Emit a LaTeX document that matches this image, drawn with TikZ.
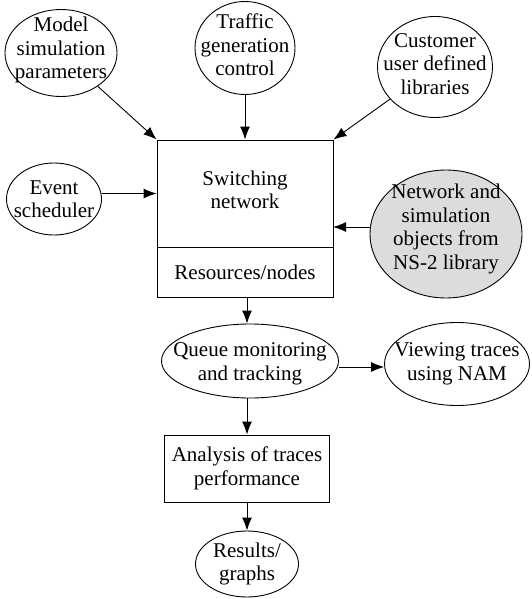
\documentclass[tikz,border=0pt]{standalone}
\usepackage{fontspec}
\setmainfont{Liberation Serif}
\usetikzlibrary{shapes.geometric,arrows.meta}
\begin{document}
\begin{tikzpicture}[x=1pt,y=-1pt,
  every node/.style={font=\fontsize{21}{23.5}\selectfont, align=center, line width=0.9pt},
  ell/.style={ellipse, draw, inner sep=0pt},
  rbox/.style={rectangle, draw, inner sep=0pt},
  arr/.style={-{Latex[length=13pt,width=10pt]}, line width=0.9pt}]
\useasboundingbox (0,0) rectangle (531,599);
% ellipses
\node[ell, minimum width=112pt, minimum height=87pt,
      label={[yshift=3pt]center:{Model\\simulation\\parameters}}] (ms) at (61,53) {};
\node[ell, minimum width=100pt, minimum height=93pt,
      label={[yshift=3pt]center:{Traffic\\generation\\control}}] (tg) at (245,48) {};
\node[ell, minimum width=115pt, minimum height=101pt,
      label={[yshift=3pt]center:{Customer\\user defined\\libraries}}] (cu) at (435,67) {};
\node[ell, minimum width=95pt, minimum height=72pt,
      label={center:{Event\\scheduler}}] (ev) at (54,199) {};
\node[ell, fill={rgb,255:red,220;green,220;blue,220}, minimum width=152pt, minimum height=128pt,
      label={[yshift=5pt]center:{Network and\\simulation\\objects from\\NS-2 library}}] (ns) at (446,234) {};
% central box
\node[rbox, minimum width=176pt, minimum height=107pt] (sw) at (245,193.5) {};
\node[anchor=center] (swt) at (245,190) {Switching\\network};
\node[rbox, minimum width=176pt, minimum height=50pt] (res) at (245,272) {Resources/nodes};
% lower part
\node[ell, minimum width=177pt, minimum height=74pt,
      label={[yshift=-3pt]center:{Queue monitoring\\and tracking}}] (q) at (250,361) {};
\node[ell, minimum width=145pt, minimum height=83pt,
      label={center:{Viewing traces\\using NAM}}] (vw) at (457,364) {};
\node[rbox, minimum width=165pt, minimum height=67pt] (an) at (247,468.5) {Analysis of traces\\performance};
\node[ell, minimum width=103pt, minimum height=66pt,
      label={center:{Results/\\graphs}}] (rs) at (247,564) {};
% connectors
\coordinate (pin) at (333,227);
\coordinate (vx) at (247,0);
\draw[arr] (ms) -- (sw.north west);
\draw[arr] (tg.south) -- (sw.north);
\draw[arr] (cu) -- (sw.north east);
\draw[arr] (ev.east |- sw) -- (sw.west);
\draw[arr] (ns.west |- pin) -- (pin);
\draw[arr] (vx |- res.south) -- (vx |- q.north);
\draw[arr] (q.east |- 0,367) -- (vw.west |- 0,367);
\draw[arr] (vx |- q.south) -- (an.north);
\draw[arr] (an.south) -- (rs.north);
\end{tikzpicture}
\end{document}
